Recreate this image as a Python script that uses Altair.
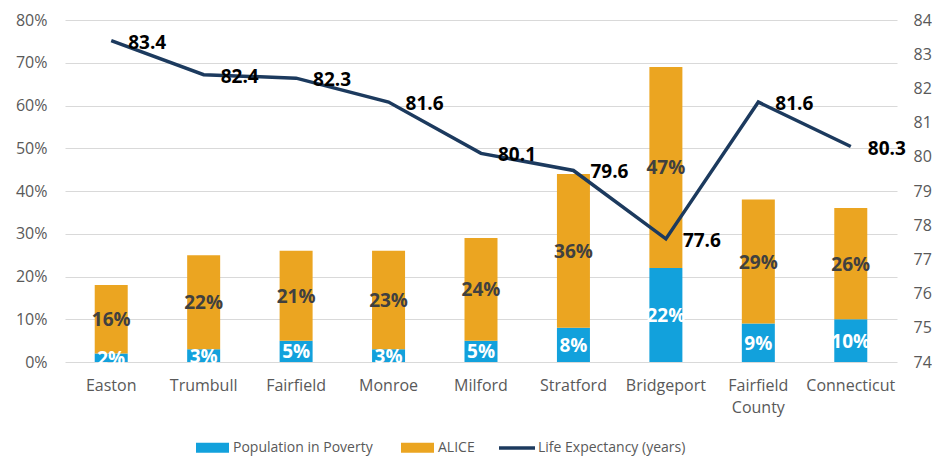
import altair as alt
import pandas as pd

categories = ["Easton", "Trumbull", "Fairfield", "Monroe", "Milford",
              "Stratford", "Bridgeport", "Fairfield County", "Connecticut"]
poverty = [2, 3, 5, 3, 5, 8, 22, 9, 10]
alice = [16, 22, 21, 23, 24, 36, 47, 29, 26]
life_expectancy = [83.4, 82.4, 82.3, 81.6, 80.1, 79.6, 77.6, 81.6, 80.3]
series_names = ["Population in Poverty", "ALICE"]
line_name = "Life Expectancy (years)"
left_ticks = [0, 0.1, 0.2, 0.3, 0.4, 0.5, 0.6, 0.7, 0.8]
right_ticks = [74, 75, 76, 77, 78, 79, 80, 81, 82, 83, 84]

BLUE = "#12A1DC"
ORANGE = "#EBA521"
NAVY = "#1C3A5E"
GRAY = "#595959"
FONT = "Open Sans"

rows = []
for i, c in enumerate(categories):
    rows.append({"category": c, "series": series_names[0], "order": 0, "value": poverty[i] / 100})
    rows.append({"category": c, "series": series_names[1], "order": 1, "value": alice[i] / 100})
bars_df = pd.DataFrame(rows)
line_df = pd.DataFrame({"category": categories, "life": life_expectancy})

x = alt.X(
    "category:N", sort=categories,
    scale=alt.Scale(paddingInner=0, paddingOuter=0),
    axis=alt.Axis(title=None, labelAngle=0, labelFont=FONT, labelFontSize=16,
                  labelColor=GRAY, labelPadding=15,
                  labelExpr="split(datum.label, ' ')", labelLineHeight=22,
                  ticks=False, domain=False, grid=False),
)

left_axis = alt.Axis(values=left_ticks, format=".0%", title=None,
                     grid=True, gridColor="#D9D9D9", gridWidth=1.2,
                     domain=False, ticks=False, labelPadding=18,
                     labelOverlap=False,
                     labelFont=FONT, labelFontSize=16, labelColor=GRAY)
left_scale = alt.Scale(domain=[0, 0.8])

right_axis = alt.Axis(orient="right", values=right_ticks, tickCount=11, title=None,
                      grid=False, domain=False, ticks=False, labelPadding=16,
                      labelOverlap=False,
                      labelFont=FONT, labelFontSize=16, labelColor=GRAY)
right_scale = alt.Scale(domain=[74, 84])

base = (
    alt.Chart(bars_df)
    .transform_stack(stack="value", as_=["y0", "y1"], groupby=["category"],
                     sort=[alt.SortField("order", order="ascending")])
    .transform_calculate(mid="(datum.y0 + datum.y1) / 2")
)

bars = base.mark_bar(size=33).encode(
    x=x,
    y=alt.Y("y0:Q", scale=left_scale, axis=left_axis),
    y2="y1:Q",
    color=alt.Color("series:N",
                    scale=alt.Scale(domain=series_names, range=[BLUE, ORANGE]),
                    legend=alt.Legend(orient="none", legendX=131, legendY=411,
                                      direction="horizontal", title=None,
                                      symbolType="M-1,-0.3L1,-0.3L1,0.3L-1,0.3Z",
                                      symbolSize=1089, symbolStrokeWidth=0,
                                      labelFont=FONT, labelFontSize=14,
                                      labelColor=GRAY, labelOffset=4,
                                      columnPadding=28)),
)

bar_text = base.mark_text(font=FONT, fontSize=19, fontWeight="bold", dy=1).encode(
    x=x,
    y=alt.Y("mid:Q", scale=left_scale, axis=left_axis),
    text=alt.Text("value:Q", format=".0%"),
    color=alt.condition("datum.series == 'ALICE'", alt.value("#404040"), alt.value("white")),
)

line_base = alt.Chart(line_df).transform_calculate(lbl="'" + line_name + "'")

line = line_base.mark_line(strokeWidth=3.5).encode(
    x=x,
    y=alt.Y("life:Q", scale=right_scale, axis=right_axis),
    stroke=alt.Stroke("lbl:N", scale=alt.Scale(domain=[line_name], range=[NAVY]),
                      legend=alt.Legend(orient="none", legendX=432, legendY=408,
                                        direction="horizontal", title=None,
                                        symbolType="stroke", symbolSize=1296,
                                        symbolStrokeWidth=3.5,
                                        labelFont=FONT, labelFontSize=14,
                                        labelColor=GRAY, labelOffset=1)),
)

line_text = line_base.mark_text(align="left", baseline="middle", dx=17, dy=2,
                                font=FONT, fontSize=19, fontWeight="bold",
                                color="black").encode(
    x=x,
    y=alt.Y("life:Q", scale=right_scale, axis=right_axis),
    text=alt.Text("life:Q", format=".1f"),
)

chart = (
    alt.layer(alt.layer(bars, bar_text), alt.layer(line, line_text))
    .resolve_scale(y="independent")
    .properties(width=832, height=342,
                autosize=alt.AutoSizeParams(type="none"),
                padding={"left": 57, "top": 12, "right": 35, "bottom": 95})
    .configure_view(stroke=None)
)

chart.save("out.html", embed_options={"renderer": "svg", "actions": False})
